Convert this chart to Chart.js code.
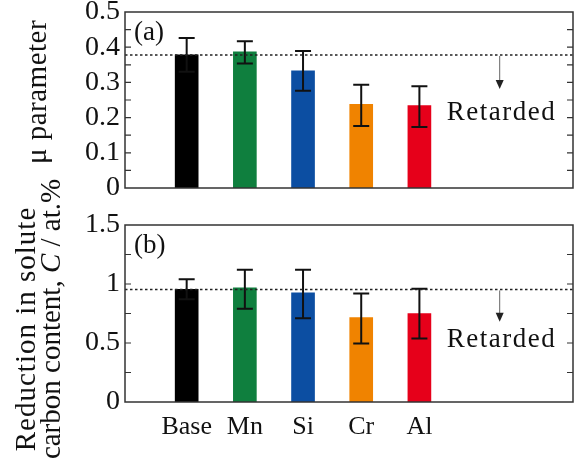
<!DOCTYPE html>
<html><head><meta charset="utf-8">
<script src="https://cdn.jsdelivr.net/npm/chart.js@4"></script>
<style>
html,body{margin:0;padding:0;background:#fff;}
#wrap{position:relative;width:574px;height:461px;background:#fff;}
canvas{position:absolute;left:0;top:0;}
</style></head><body>
<div id="wrap"><canvas id="ca" width="574" height="461"></canvas><canvas id="cb" width="574" height="461"></canvas></div>
<script>
// ---- data ----
const categories = ['Base', 'Mn', 'Si', 'Cr', 'Al'];
const barColors = ['#000000', '#0f7f3e', '#0c4ea2', '#f08300', '#e6001a'];
const muValues = [0.378, 0.387, 0.333, 0.238, 0.234];
const muErrUpper = [0.426, 0.417, 0.389, 0.293, 0.289];
const muErrLower = [0.330, 0.354, 0.276, 0.176, 0.173];
const carbonValues = [0.954, 0.968, 0.925, 0.716, 0.750];
const carbonErrUpper = [1.04, 1.12, 1.12, 0.92, 0.96];
const carbonErrLower = [0.87, 0.79, 0.71, 0.496, 0.538];
const muAxis = { max: 0.5, step: 0.1, minor: 0.05 };
const carbonAxis = { max: 1.5, step: 0.5, minor: 0.25 };
const annotationText = 'Retarded';

const SERIF = '"Liberation Serif", "Times New Roman", serif';

function makePanel(id, cfg) {
  const decor = {
    id: 'decor' + id,
    afterDatasetsDraw(chart) {
      const { ctx, chartArea: a, scales: { x, y } } = chart;
      ctx.save();
      // error bars
      ctx.strokeStyle = '#111'; ctx.lineWidth = 2;
      cfg.values.forEach((v, i) => {
        const px = x.getPixelForValue(i + 1);
        const yt = y.getPixelForValue(cfg.upper[i]);
        const yb = y.getPixelForValue(cfg.lower[i]);
        ctx.beginPath();
        ctx.moveTo(px, yt); ctx.lineTo(px, yb);
        ctx.moveTo(px - 8, yt); ctx.lineTo(px + 8, yt);
        ctx.moveTo(px - 8, yb); ctx.lineTo(px + 8, yb);
        ctx.stroke();
      });
      // reference dotted line at Base level
      const ry = y.getPixelForValue(cfg.values[0]);
      ctx.setLineDash([2.5, 2.5]); ctx.lineWidth = 1.5; ctx.strokeStyle = '#222';
      ctx.beginPath(); ctx.moveTo(a.left, ry); ctx.lineTo(a.right, ry); ctx.stroke();
      ctx.setLineDash([]);
      // arrow
      const ax = x.getPixelForValue(6.38);
      const tip = y.getPixelForValue(cfg.arrowTip);
      ctx.strokeStyle = '#666'; ctx.lineWidth = 1;
      ctx.beginPath(); ctx.moveTo(ax, ry + 1); ctx.lineTo(ax, tip - 8); ctx.stroke();
      ctx.fillStyle = '#222';
      ctx.beginPath(); ctx.moveTo(ax - 4, tip - 9); ctx.lineTo(ax + 4, tip - 9); ctx.lineTo(ax, tip); ctx.closePath(); ctx.fill();
      // annotation text
      ctx.fillStyle = '#111';
      ctx.font = '27px ' + SERIF;
      ctx.letterSpacing = '1.5px';
      ctx.textAlign = 'left'; ctx.textBaseline = 'alphabetic';
      ctx.fillText(annotationText, x.getPixelForValue(5.47), y.getPixelForValue(cfg.textBase));
      ctx.letterSpacing = '0px';
      // frame
      ctx.strokeStyle = '#333'; ctx.lineWidth = 1.5;
      ctx.strokeRect(a.left, a.top, a.right - a.left, a.bottom - a.top);
      // inward ticks on both sides
      ctx.lineWidth = 1.2;
      const n = Math.round(cfg.axis.max / cfg.axis.minor);
      for (let k = 1; k < n; k++) {
        const py = y.getPixelForValue(k * cfg.axis.minor);
        ctx.beginPath();
        ctx.moveTo(a.left, py); ctx.lineTo(a.left + 6, py);
        ctx.moveTo(a.right, py); ctx.lineTo(a.right - 6, py);
        ctx.stroke();
      }
      // panel label
      ctx.fillStyle = '#111';
      ctx.font = '27px ' + SERIF;
      ctx.fillText(cfg.panel, a.left + 9, a.top + 28);
      // axis title (rotated)
      cfg.titles.forEach(t => {
        ctx.save();
        ctx.translate(t.x, t.cy);
        ctx.rotate(-Math.PI / 2);
        ctx.textBaseline = 'alphabetic';
        ctx.letterSpacing = (t.ls || 0) + 'px';
        let total = 0;
        const segs = t.segs.map(s => {
          ctx.font = (s.italic ? 'italic ' : '') + '29px ' + SERIF;
          const w = ctx.measureText(s.text).width; total += w; return { ...s, w };
        });
        let cx = -total / 2;
        segs.forEach(s => {
          ctx.font = (s.italic ? 'italic ' : '') + '29px ' + SERIF;
          ctx.textAlign = 'left';
          ctx.fillText(s.text, cx, 0);
          cx += s.w;
        });
        ctx.restore();
      });
      ctx.restore();
    }
  };

  return new Chart(document.getElementById(id), {
    type: 'bar',
    data: {
      datasets: [{
        data: cfg.values.map((v, i) => ({ x: i + 1, y: v })),
        backgroundColor: barColors,
        borderWidth: 0,
        barThickness: 23
      }]
    },
    options: {
      responsive: false,
      animation: false,
      devicePixelRatio: 1,
      layout: { padding: { left: 0, right: 1, top: cfg.padTop, bottom: cfg.padBottom } },
      plugins: { legend: { display: false }, tooltip: { enabled: false } },
      scales: {
        x: {
          type: 'linear',
          offset: false,
          min: -0.06, max: 7.64,
          display: cfg.showX,
          grid: { display: false, drawTicks: false, offset: false },
          border: { display: false },
          afterBuildTicks: s => { s.ticks = categories.map((c, i) => ({ value: i + 1 })); },
          ticks: {
            padding: 10,
            autoSkip: false,
            maxRotation: 0,
            color: '#111',
            font: { family: SERIF, size: 26 },
            callback: v => categories[Math.round(v) - 1] || ''
          },
          afterFit: s => { s.height = cfg.showX ? 59 : 0; s.paddingLeft = 0; s.paddingRight = 0; }
        },
        y: {
          min: 0, max: cfg.axis.max,
          grid: { display: false, drawTicks: false },
          border: { display: false },
          afterBuildTicks: s => {
            const t = [];
            for (let k = 0; k <= Math.round(cfg.axis.max / cfg.axis.step); k++) t.push({ value: k * cfg.axis.step });
            s.ticks = t;
          },
          ticks: {
            autoSkip: false,
            padding: 5,
            color: '#111',
            font: { family: SERIF, size: 28 },
            callback: v => String(+v.toFixed(2))
          },
          afterFit: s => { s.width = 125; s.paddingTop = 0; s.paddingBottom = 0; }
        }
      }
    },
    plugins: [decor]
  });
}

makePanel('ca', {
  values: muValues, upper: muErrUpper, lower: muErrLower, axis: muAxis,
  padTop: 12, padBottom: 273, showX: false,
  arrowTip: 0.281, textBase: 0.194, panel: '(a)',
  titles: [{ x: 46, cy: 92, ls: 0.5, segs: [{ text: 'μ parameter' }] }]
});
makePanel('cb', {
  values: carbonValues, upper: carbonErrUpper, lower: carbonErrLower, axis: carbonAxis,
  padTop: 225, padBottom: 0, showX: true,
  arrowTip: 0.68, textBase: 0.465, panel: '(b)',
  titles: [
    { x: 35, cy: 329, ls: 1, segs: [{ text: 'Reduction in solute' }] },
    { x: 60, cy: 319, ls: 0, segs: [{ text: 'carbon content, ' }, { text: 'C', italic: true }, { text: ' / at.%' }] }
  ]
});
</script>
</body></html>
